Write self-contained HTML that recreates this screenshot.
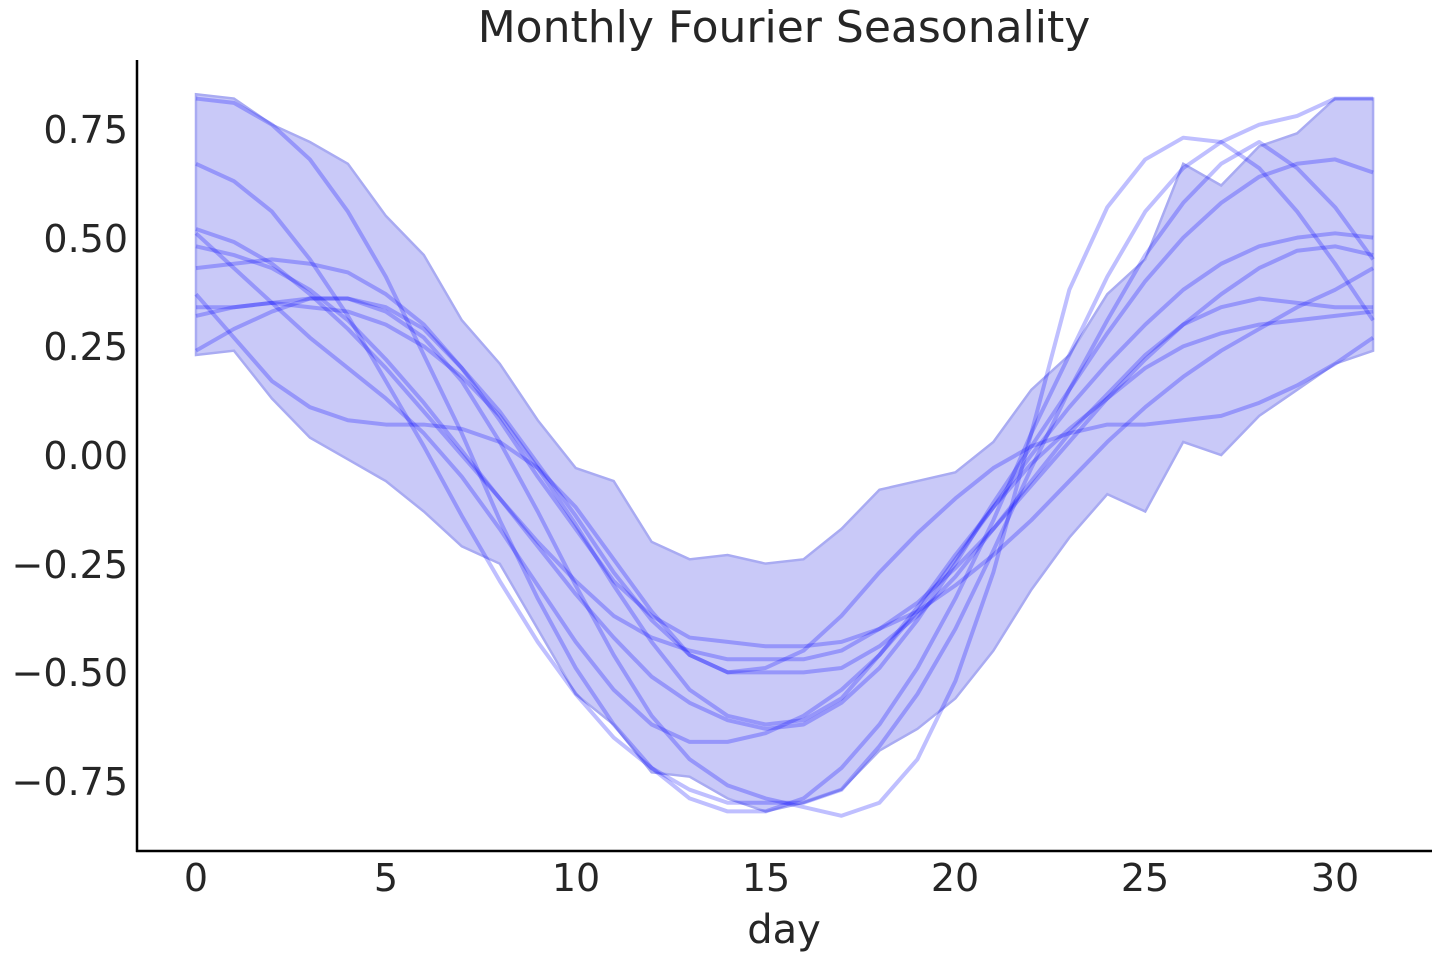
<!DOCTYPE html>
<html><head><meta charset="utf-8">
<style>
html,body{margin:0;padding:0;background:#fff;}
svg text{font-family:"DejaVu Sans","Liberation Sans",sans-serif;fill:#262626;}
</style></head>
<body>
<svg id="s" width="1440" height="960" viewBox="0 0 1440 960" xmlns="http://www.w3.org/2000/svg">
<rect width="1440" height="960" fill="#fff"/>
<g id="plot"></g>
<line x1="137" y1="60" x2="137" y2="852" stroke="#000" stroke-width="2.5"/>
<line x1="136" y1="851" x2="1432" y2="851" stroke="#000" stroke-width="2.5"/>
<text x="784" y="42" font-size="44" text-anchor="middle">Monthly Fourier Seasonality</text>
<text x="784" y="943" font-size="40" text-anchor="middle">day</text>
<g font-size="38" text-anchor="middle">
<text x="196" y="891">0</text><text x="386" y="891">5</text><text x="576" y="891">10</text>
<text x="766" y="891">15</text><text x="955" y="891">20</text><text x="1145" y="891">25</text><text x="1335" y="891">30</text>
</g>
<g font-size="38" text-anchor="end">
<text x="128" y="143">0.75</text><text x="128" y="252">0.50</text><text x="128" y="360">0.25</text>
<text x="128" y="469">0.00</text><text x="128" y="578">−0.25</text><text x="128" y="686">−0.50</text><text x="128" y="795">−0.75</text>
</g>
</svg>
<script>
var X=function(d){return 196+d*37.97;},Y=function(v){return 455-v*434.67;};
var up=[.83,.82,.76,.72,.67,.55,.46,.31,.21,.08,-.03,-.06,-.2,-.24,-.23,-.25,-.24,-.17,-.08,-.06,-.04,.03,.15,.23,.37,.45,.67,.62,.71,.74,.82,.82];
var lo=[.23,.24,.13,.04,-.01,-.06,-.13,-.21,-.25,-.4,-.55,-.62,-.73,-.74,-.79,-.82,-.80,-.77,-.68,-.63,-.56,-.45,-.31,-.19,-.09,-.13,.03,0,.09,.15,.21,.24];
var L=[
[.82,.81,.76,.68,.56,.41,.23,.05,-.15,-.33,-.49,-.62,-.72,-.79,-.82,-.82,-.79,-.72,-.62,-.49,-.33,-.15,.05,.23,.41,.56,.66,.72,.76,.78,.82,.82],
[.67,.63,.56,.45,.32,.17,.02,-.14,-.29,-.43,-.55,-.65,-.72,-.77,-.8,-.8,-.8,-.77,-.67,-.55,-.4,-.22,-.03,.15,.31,.46,.58,.67,.72,.66,.57,.45],
[.24,.29,.33,.36,.36,.33,.27,.17,.03,-.13,-.3,-.46,-.6,-.7,-.76,-.79,-.81,-.83,-.80,-.70,-.52,-.27,.05,.38,.57,.68,.73,.72,.66,.56,.44,.31],
[.52,.49,.44,.37,.29,.2,.1,0,-.1,-.21,-.32,-.42,-.51,-.57,-.61,-.63,-.62,-.57,-.49,-.38,-.25,-.11,.02,.15,.28,.4,.5,.58,.64,.67,.68,.65],
[.51,.43,.35,.27,.2,.13,.05,-.05,-.17,-.3,-.43,-.54,-.62,-.66,-.66,-.64,-.6,-.54,-.46,-.36,-.24,-.12,0,.11,.21,.3,.38,.44,.48,.5,.51,.5],
[.48,.46,.43,.38,.31,.22,.12,.01,-.1,-.2,-.29,-.37,-.42,-.45,-.47,-.47,-.47,-.45,-.4,-.34,-.26,-.17,-.07,.03,.13,.22,.3,.37,.43,.47,.48,.46],
[.43,.44,.45,.44,.42,.37,.3,.2,.08,-.05,-.17,-.29,-.37,-.42,-.43,-.44,-.44,-.43,-.4,-.36,-.3,-.23,-.15,-.06,.03,.11,.18,.24,.29,.34,.38,.43],
[.37,.27,.17,.11,.08,.07,.07,.06,.03,-.03,-.12,-.24,-.36,-.46,-.5,-.49,-.45,-.37,-.27,-.18,-.1,-.03,.02,.05,.07,.07,.08,.09,.12,.16,.21,.27],
[.34,.34,.35,.36,.36,.34,.29,.2,.1,-.02,-.14,-.27,-.38,-.46,-.5,-.5,-.5,-.49,-.44,-.37,-.28,-.17,-.06,.05,.14,.23,.3,.34,.36,.35,.34,.34],
[.32,.34,.35,.34,.33,.3,.25,.18,.09,-.03,-.16,-.3,-.43,-.54,-.6,-.62,-.61,-.56,-.46,-.35,-.23,-.12,-.02,.06,.13,.2,.25,.28,.3,.31,.32,.33]];
var g=document.getElementById('plot'),h='';
var pts=[];for(var i=0;i<32;i++)pts.push(X(i)+','+Y(up[i]));for(i=31;i>=0;i--)pts.push(X(i)+','+Y(lo[i]));
h+='<polygon points="'+pts.join(' ')+'" fill="#c9c9f8" stroke="#a9abf2" stroke-width="2.5"/>';
L.forEach(function(a){var p=a.map(function(v,i){return X(i)+','+Y(v);}).join(' ');
h+='<polyline points="'+p+'" fill="none" stroke="#0000ff" stroke-opacity="0.25" stroke-width="4" stroke-linejoin="round"/>';});
g.innerHTML=h;
</script>
</body></html>
